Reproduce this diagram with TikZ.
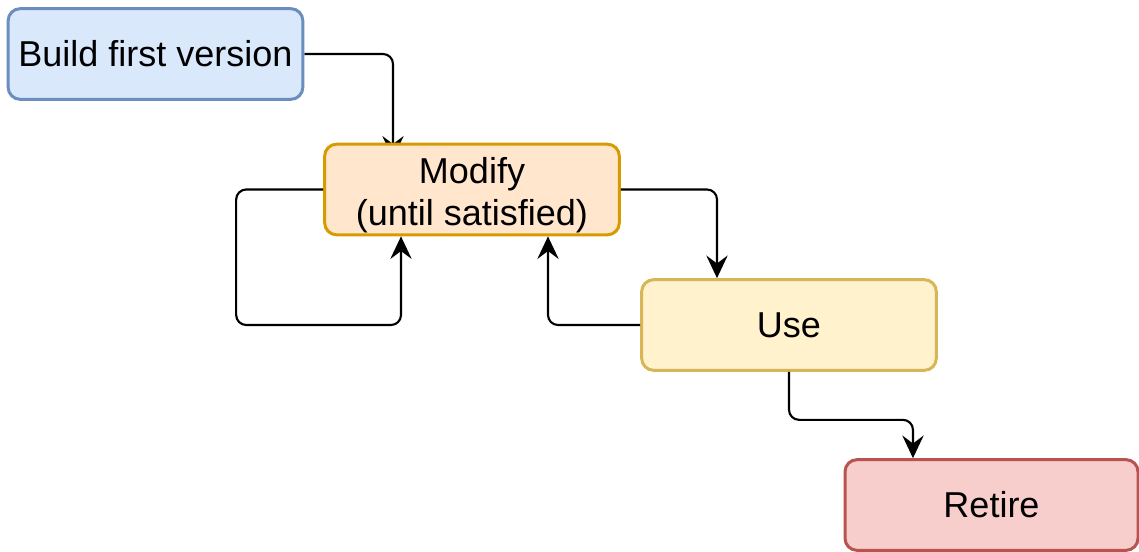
\documentclass[tikz,border=0pt]{standalone}
\usepackage{fontspec}
\setmainfont{Liberation Sans}
\usetikzlibrary{arrows.meta,backgrounds}
\definecolor{bluefill}{HTML}{DAE8FC}
\definecolor{bluedraw}{HTML}{6C8EBF}
\definecolor{orangefill}{HTML}{FFE6CC}
\definecolor{orangedraw}{HTML}{D79B00}
\definecolor{yellowfill}{HTML}{FFF2CC}
\definecolor{yellowdraw}{HTML}{D6B656}
\definecolor{redfill}{HTML}{F8CECC}
\definecolor{reddraw}{HTML}{B85450}
\begin{document}
\begin{tikzpicture}[x=0.75pt,y=-0.75pt,
  stage/.style={rectangle, rounded corners=9pt, line width=2.25pt, inner sep=0pt,
    minimum width=221pt, minimum height=68pt, align=center,
    font=\fontsize{27}{31.5}\selectfont},
  caption/.style={inner sep=0pt, align=center, font=\fontsize{27}{31.5}\selectfont},
  flow/.style={line width=1.6pt, rounded corners=7.5pt,
    -{Stealth[length=17pt,width=16pt,inset=6pt]}}]
  \useasboundingbox (0,0) rectangle (1139,552);

  \node[stage, fill=bluefill, draw=bluedraw] (build) at (155.5,54) {Build first version};
  \node[stage, fill=orangefill, draw=orangedraw] (modify) at (472,189.5) {};
  \node[caption] (modifytext) at ([yshift=-4pt]modify.center) {Modify\\(until satisfied)};
  \node[stage, fill=yellowfill, draw=yellowdraw] (use) at (789,325) {Use};
  \node[stage, fill=redfill, draw=reddraw, minimum width=219.75pt] (retire) at (991.5,505) {Retire};

  % this arrow runs under the Modify box, so only the back of its head shows
  \begin{scope}[on background layer]
    \draw[flow] (build.east) -| ([shift={(-79,16)}]modify.north);
  \end{scope}
  \draw[flow] (modify.west) -- ++(-87,0) -- ++(0,135.5) -| ([xshift=-53.25pt]modify.south);
  \draw[flow] (use.west) -| ([xshift=57pt]modify.south);
  \draw[flow] (modify.east) -| ([xshift=-54pt]use.north);
  \draw[flow] (use.south) -- ++(0,48) -| ([xshift=-58.9pt]retire.north);
\end{tikzpicture}
\end{document}
